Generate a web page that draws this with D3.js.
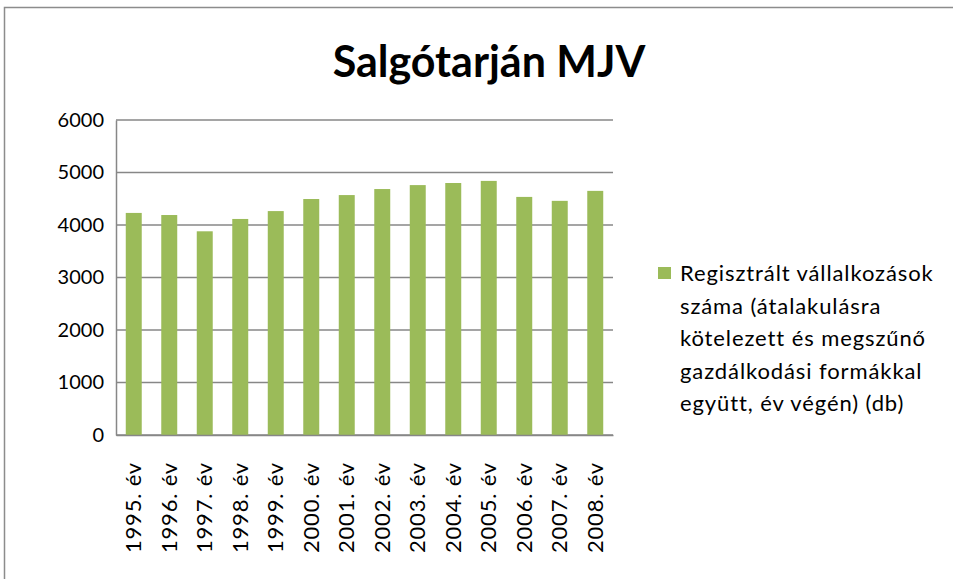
<!DOCTYPE html>
<html>
<head>
<meta charset="utf-8">
<script src="https://cdn.jsdelivr.net/npm/d3@7"></script>
<style>
  body { margin: 0; background: #fff; }
  text { font-family: Lato, "Open Sans", sans-serif; fill: #000; }
</style>
</head>
<body>
<div id="chart"></div>
<script>
// data
var years = ["1995. év", "1996. év", "1997. év", "1998. év", "1999. év", "2000. év", "2001. év",
             "2002. év", "2003. év", "2004. év", "2005. év", "2006. év", "2007. év", "2008. év"];
var values = [4230, 4190, 3880, 4115, 4265, 4495, 4570, 4685, 4760, 4800, 4840, 4535, 4460, 4650];
var yTicks = [0, 1000, 2000, 3000, 4000, 5000, 6000];
var seriesName = ["Regisztrált vállalkozások", "száma (átalakulásra", "kötelezett és megszűnő",
                  "gazdálkodási formákkal", "együtt, év végén) (db)"];

var W = 953, H = 579;
var margin = { top: 120, right: 340, bottom: 144, left: 116 },
    width = W - margin.left - margin.right,
    height = H - margin.top - margin.bottom;

var root = d3.select("#chart").append("svg")
    .attr("width", W)
    .attr("height", H);

// outer frame (runs off the right and bottom edges)
root.append("rect")
    .attr("x", 4.5).attr("y", 7.5)
    .attr("width", W + 10).attr("height", H + 10)
    .attr("fill", "none")
    .attr("stroke", "#8c8c8c")
    .attr("stroke-width", 1.5);

root.append("text")
    .attr("x", 489)
    .attr("y", 77)
    .attr("text-anchor", "middle")
    .style("font-size", "43px")
    .style("font-weight", "bold")
    .text("Salgótarján MJV");

var svg = root.append("g")
    .attr("transform", "translate(" + margin.left + "," + margin.top + ")");

var x = d3.scaleBand()
    .domain(years)
    .range([0, width])
    .paddingInner(0.55)
    .paddingOuter(0.275);

var y = d3.scaleLinear()
    .domain([0, 6000])
    .range([height, 0]);

// gridlines
svg.append("g")
    .selectAll("line")
    .data(yTicks)
    .enter().append("line")
    .attr("x1", 0).attr("x2", width)
    .attr("y1", function (d) { return y(d); })
    .attr("y2", function (d) { return y(d); })
    .attr("stroke", "#878787")
    .attr("stroke-width", 1.5);

// y axis
var yAxis = svg.append("g")
    .call(d3.axisLeft(y).tickValues(yTicks).tickFormat(d3.format("d")).tickSize(0).tickPadding(12));
yAxis.select(".domain").attr("stroke", "#878787").attr("stroke-width", 1.5);
yAxis.selectAll("text").style("font-size", "20px").style("font-family", "Lato, sans-serif");

// bars
svg.selectAll(".bar")
    .data(values)
    .enter().append("rect")
    .attr("class", "bar")
    .attr("x", function (d, i) { return x(years[i]); })
    .attr("width", x.bandwidth())
    .attr("y", function (d) { return y(d); })
    .attr("height", function (d) { return height - y(d); })
    .attr("fill", "#9bbb59");

// x axis
var xAxis = svg.append("g")
    .attr("transform", "translate(0," + height + ")")
    .call(d3.axisBottom(x).tickSize(0));
xAxis.select(".domain").attr("stroke", "#878787").attr("stroke-width", 1.5);
xAxis.selectAll("text")
    .style("font-size", "22px")
    .style("font-family", "Lato, sans-serif")
    .style("letter-spacing", "0.8px")
    .attr("text-anchor", "end")
    .attr("transform", "rotate(-90)")
    .attr("x", -27)
    .attr("y", 0)
    .attr("dy", "0.35em");

// legend
var legend = root.append("g").attr("transform", "translate(658,267)");
legend.append("rect")
    .attr("width", 13).attr("height", 12)
    .attr("fill", "#9bbb59");
legend.selectAll("text")
    .data(seriesName)
    .enter().append("text")
    .attr("x", 22)
    .attr("y", function (d, i) { return 14 + i * 32.5; })
    .style("font-size", "22px")
    .style("letter-spacing", "0.9px")
    .text(function (d) { return d; });
</script>
</body>
</html>
